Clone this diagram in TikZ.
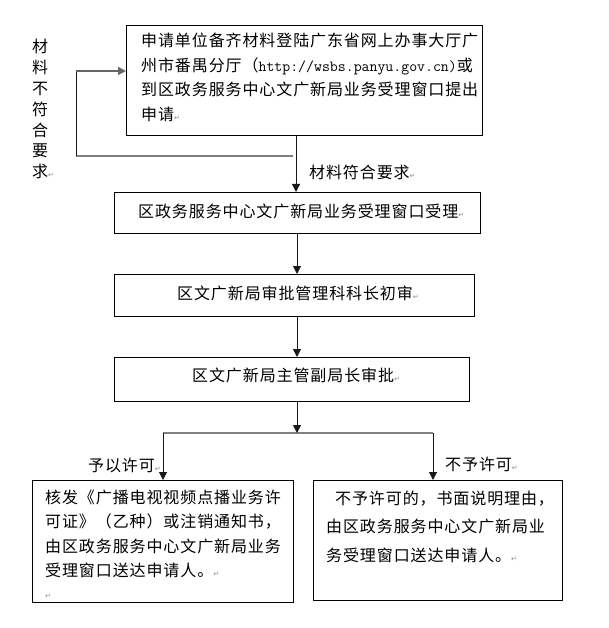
\documentclass[tikz,border=0pt]{standalone}
\usepackage{fontspec}
\setmainfont{Noto Sans CJK SC}[LetterSpace=5.6]
\newfontfamily\symfont{DejaVu Sans}
\usetikzlibrary{arrows.meta}
\newcommand\parmk{{\symfont\fontsize{7}{7}\selectfont\textcolor{black!45}{↵}}}
\begin{document}
\begin{tikzpicture}[x=1pt,y=-1pt,
  box/.style={draw=black, line width=0.9pt, inner sep=0pt, anchor=north west},
  txt/.style={inner sep=0pt, anchor=base west, align=left, font=\fontsize{16}{24.5}\selectfont},
  vln/.style={draw=black!90, line width=1pt},
  hln/.style={draw=black!50, line width=1.6pt},
  arr/.style={vln, -{Triangle[length=8pt,width=8pt]}}]
\useasboundingbox (0,0) rectangle (609,628);
% boxes
\node[box, minimum width=356pt, minimum height=110pt] (b1) at (126,25) {};
\node[box, minimum width=366pt, minimum height=41pt] (b2) at (114,192) {};
\node[box, minimum width=360pt, minimum height=42pt] (b3) at (114,274) {};
\node[box, minimum width=355pt, minimum height=44pt] (b4) at (114,357) {};
\node[box, minimum width=261pt, minimum height=122pt] (b5) at (32,480) {};
\node[box, minimum width=249pt, minimum height=120pt] (b6) at (313,480) {};
% texts (base anchor = baseline of the last line)
\node[txt] (t1) at (141,120.5) {申请单位备齐材料登陆广东省网上办事大厅广\\州市番禺分厅（{\ttfamily\fontsize{15.4}{24.5}\selectfont http://wsbs.panyu.gov.cn)}或\\到区政务服务中心文广新局业务受理窗口提出\\申请\parmk};
\node[txt] (t2) at (138,217) {区政务服务中心文广新局业务受理窗口受理\parmk};
\node[txt] (t3) at (177,299) {区文广新局审批管理科科长初审\parmk};
\node[txt] (t4) at (192,381) {区文广新局主管副局长审批\parmk};
\node[txt] (t5) at (45,576.5) {核发《广播电视视频点播业务许\\可证》（乙种）或注销通知书，\\由区政务服务中心文广新局业务\\受理窗口送达申请人。\parmk};
\node[txt, font=\fontsize{16}{28.5}\selectfont] (t6) at (326,561) {\hspace*{9pt}不予许可的，书面说明理由，\\由区政务服务中心文广新局业\\务受理窗口送达申请人。\parmk};
\node[txt] (p5) at (45,598) {\parmk};
% labels
\node[txt, anchor=base, align=center, font=\fontsize{16}{20.8}\selectfont] (l0) at (40,177.8) {材\\料\\不\\符\\合\\要\\求\rlap{\parmk}};
\node[txt] (l1) at (309,179) {材料符合要求\parmk};
\node[txt] (l2) at (88,471) {予以许可\parmk};
\node[txt] (l3) at (445,470) {不予许可\parmk};
% connectors
\coordinate (x1) at (296,0);
\coordinate (x2) at (297,0);
\draw[arr] (b1.south -| x1) -- (b2.north -| x1);
\draw[arr] (b2.south -| x2) -- (b3.north -| x2);
\draw[arr] (b3.south -| x2) -- (b4.north -| x2);
\coordinate (br) at (297,433);
\coordinate (bl) at (163,433);
\coordinate (brr) at (433,433);
\draw[hln] (bl) -- (brr);
\draw[arr] (b4.south -| x2) -- (br);
\draw[arr] (bl) -- (b5.north -| bl);
\draw[arr] (brr) -- (b6.north -| brr);
\coordinate (fr) at (293,156);
\coordinate (fl) at (76,156);
\coordinate (ft) at (76,71);
\draw[hln] (fr) -- (fl);
\draw[vln] (fl) -- (ft);
\draw[arr, draw=black!60, line width=1.4pt] (ft) -- (ft -| b1.west);
\end{tikzpicture}
\end{document}
